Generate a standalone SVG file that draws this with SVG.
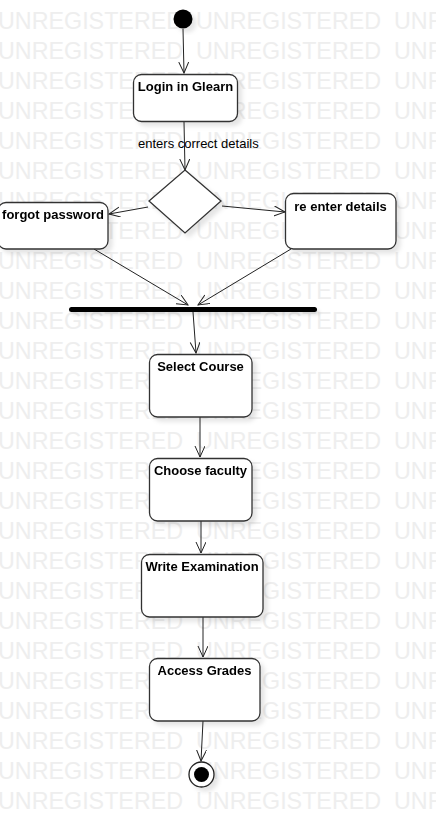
<svg xmlns="http://www.w3.org/2000/svg" width="436" height="827" viewBox="0 0 436 827">
<style>
.wm{font-family:"Liberation Sans",Arial,sans-serif;font-size:23.3px;fill:#eeeeee}
.box{fill:#fff;stroke:#333;stroke-width:1.3}
.lbl{font-family:"Liberation Sans",Arial,sans-serif;font-size:13px;font-weight:bold;fill:#000;text-anchor:middle}
.edge{fill:none;stroke:#222;stroke-width:1}
.elbl{font-family:"Liberation Sans",Arial,sans-serif;font-size:13px;fill:#000}
</style>
<defs>
<marker id="arr" markerUnits="userSpaceOnUse" markerWidth="14" markerHeight="14" refX="11" refY="5" orient="auto">
<path d="M0,0 L11,5 L0,10" fill="none" stroke="#222" stroke-width="1"/>
</marker>
<filter id="sh" x="-20%" y="-20%" width="150%" height="150%">
<feDropShadow dx="4" dy="4" stdDeviation="2" flood-color="#000" flood-opacity="0.10"/>
</filter>
<filter id="shbar" filterUnits="userSpaceOnUse" x="60" y="300" width="270" height="25">
<feDropShadow dx="3" dy="3" stdDeviation="1.5" flood-color="#000" flood-opacity="0.10"/>
</filter>
</defs>
<rect width="436" height="827" fill="#fff"/>
<g id="watermark">
<text class="wm" y="29"><tspan x="-2">UNREGISTERED</tspan><tspan x="196">UNREGISTERED</tspan><tspan x="394">UNREGISTERED</tspan></text>
<text class="wm" y="59"><tspan x="-2">UNREGISTERED</tspan><tspan x="196">UNREGISTERED</tspan><tspan x="394">UNREGISTERED</tspan></text>
<text class="wm" y="89"><tspan x="-2">UNREGISTERED</tspan><tspan x="196">UNREGISTERED</tspan><tspan x="394">UNREGISTERED</tspan></text>
<text class="wm" y="119"><tspan x="-2">UNREGISTERED</tspan><tspan x="196">UNREGISTERED</tspan><tspan x="394">UNREGISTERED</tspan></text>
<text class="wm" y="149"><tspan x="-2">UNREGISTERED</tspan><tspan x="196">UNREGISTERED</tspan><tspan x="394">UNREGISTERED</tspan></text>
<text class="wm" y="179"><tspan x="-2">UNREGISTERED</tspan><tspan x="196">UNREGISTERED</tspan><tspan x="394">UNREGISTERED</tspan></text>
<text class="wm" y="209"><tspan x="-2">UNREGISTERED</tspan><tspan x="196">UNREGISTERED</tspan><tspan x="394">UNREGISTERED</tspan></text>
<text class="wm" y="239"><tspan x="-2">UNREGISTERED</tspan><tspan x="196">UNREGISTERED</tspan><tspan x="394">UNREGISTERED</tspan></text>
<text class="wm" y="269"><tspan x="-2">UNREGISTERED</tspan><tspan x="196">UNREGISTERED</tspan><tspan x="394">UNREGISTERED</tspan></text>
<text class="wm" y="299"><tspan x="-2">UNREGISTERED</tspan><tspan x="196">UNREGISTERED</tspan><tspan x="394">UNREGISTERED</tspan></text>
<text class="wm" y="329"><tspan x="-2">UNREGISTERED</tspan><tspan x="196">UNREGISTERED</tspan><tspan x="394">UNREGISTERED</tspan></text>
<text class="wm" y="359"><tspan x="-2">UNREGISTERED</tspan><tspan x="196">UNREGISTERED</tspan><tspan x="394">UNREGISTERED</tspan></text>
<text class="wm" y="389"><tspan x="-2">UNREGISTERED</tspan><tspan x="196">UNREGISTERED</tspan><tspan x="394">UNREGISTERED</tspan></text>
<text class="wm" y="419"><tspan x="-2">UNREGISTERED</tspan><tspan x="196">UNREGISTERED</tspan><tspan x="394">UNREGISTERED</tspan></text>
<text class="wm" y="449"><tspan x="-2">UNREGISTERED</tspan><tspan x="196">UNREGISTERED</tspan><tspan x="394">UNREGISTERED</tspan></text>
<text class="wm" y="479"><tspan x="-2">UNREGISTERED</tspan><tspan x="196">UNREGISTERED</tspan><tspan x="394">UNREGISTERED</tspan></text>
<text class="wm" y="509"><tspan x="-2">UNREGISTERED</tspan><tspan x="196">UNREGISTERED</tspan><tspan x="394">UNREGISTERED</tspan></text>
<text class="wm" y="539"><tspan x="-2">UNREGISTERED</tspan><tspan x="196">UNREGISTERED</tspan><tspan x="394">UNREGISTERED</tspan></text>
<text class="wm" y="569"><tspan x="-2">UNREGISTERED</tspan><tspan x="196">UNREGISTERED</tspan><tspan x="394">UNREGISTERED</tspan></text>
<text class="wm" y="599"><tspan x="-2">UNREGISTERED</tspan><tspan x="196">UNREGISTERED</tspan><tspan x="394">UNREGISTERED</tspan></text>
<text class="wm" y="629"><tspan x="-2">UNREGISTERED</tspan><tspan x="196">UNREGISTERED</tspan><tspan x="394">UNREGISTERED</tspan></text>
<text class="wm" y="659"><tspan x="-2">UNREGISTERED</tspan><tspan x="196">UNREGISTERED</tspan><tspan x="394">UNREGISTERED</tspan></text>
<text class="wm" y="689"><tspan x="-2">UNREGISTERED</tspan><tspan x="196">UNREGISTERED</tspan><tspan x="394">UNREGISTERED</tspan></text>
<text class="wm" y="719"><tspan x="-2">UNREGISTERED</tspan><tspan x="196">UNREGISTERED</tspan><tspan x="394">UNREGISTERED</tspan></text>
<text class="wm" y="749"><tspan x="-2">UNREGISTERED</tspan><tspan x="196">UNREGISTERED</tspan><tspan x="394">UNREGISTERED</tspan></text>
<text class="wm" y="779"><tspan x="-2">UNREGISTERED</tspan><tspan x="196">UNREGISTERED</tspan><tspan x="394">UNREGISTERED</tspan></text>
<text class="wm" y="809"><tspan x="-2">UNREGISTERED</tspan><tspan x="196">UNREGISTERED</tspan><tspan x="394">UNREGISTERED</tspan></text>
</g>
<g id="connectors">
<line class="edge" x1="183" y1="29" x2="184" y2="73" marker-end="url(#arr)"/>
<line class="edge" x1="184" y1="122" x2="185" y2="170" marker-end="url(#arr)"/>
<text class="elbl" x="138" y="148">enters correct details</text>
<line class="edge" x1="148" y1="207" x2="109" y2="214" marker-end="url(#arr)"/>
<line class="edge" x1="222" y1="206" x2="285" y2="212" marker-end="url(#arr)"/>
<line class="edge" x1="94" y1="249" x2="188" y2="305" marker-end="url(#arr)"/>
<line class="edge" x1="291" y1="249" x2="198" y2="305" marker-end="url(#arr)"/>
<line class="edge" x1="193" y1="312" x2="196" y2="353" marker-end="url(#arr)"/>
<line class="edge" x1="200" y1="417" x2="200" y2="457" marker-end="url(#arr)"/>
<line class="edge" x1="201" y1="521" x2="201" y2="553" marker-end="url(#arr)"/>
<line class="edge" x1="203" y1="617" x2="203" y2="657" marker-end="url(#arr)"/>
<line class="edge" x1="203" y1="721" x2="201" y2="761" marker-end="url(#arr)"/>
</g>
<g id="start" filter="url(#sh)">
<circle cx="183" cy="19" r="9.5" fill="#000"/>
</g>
<g id="login" filter="url(#sh)">
<rect class="box" x="133.5" y="74.5" width="104" height="47" rx="8"/>
<text class="lbl" x="185.5" y="91">Login in Glearn</text>
</g>
<g id="decision" filter="url(#sh)">
<polygon points="185,170 221,201 185,233 149,201" fill="#fff" stroke="#333" stroke-width="1.3"/>
</g>
<g id="forgot" filter="url(#sh)">
<rect class="box" x="-2" y="202.5" width="110" height="46.5" rx="8"/>
<text class="lbl" x="53" y="219">forgot password</text>
</g>
<g id="reenter" filter="url(#sh)">
<rect class="box" x="285.5" y="193.5" width="110.5" height="55.5" rx="8"/>
<text class="lbl" x="340.5" y="211">re enter details</text>
</g>
<g id="fork" filter="url(#shbar)">
<rect x="69" y="307" width="248" height="5" rx="2.5" fill="#000"/>
</g>
<g id="select" filter="url(#sh)">
<rect class="box" x="149.5" y="354.5" width="102.5" height="62.5" rx="8"/>
<text class="lbl" x="200.5" y="371">Select Course</text>
</g>
<g id="faculty" filter="url(#sh)">
<rect class="box" x="149.5" y="458.5" width="102.5" height="62.5" rx="8"/>
<text class="lbl" x="200.5" y="475">Choose faculty</text>
</g>
<g id="exam" filter="url(#sh)">
<rect class="box" x="141.5" y="554.5" width="121.5" height="62.5" rx="8"/>
<text class="lbl" x="202" y="571">Write Examination</text>
</g>
<g id="grades" filter="url(#sh)">
<rect class="box" x="149.5" y="658.5" width="110.5" height="62.5" rx="8"/>
<text class="lbl" x="204.5" y="675">Access Grades</text>
</g>
<g id="end" filter="url(#sh)">
<circle cx="201.5" cy="774.5" r="12.5" fill="#fff" stroke="#222" stroke-width="1.3"/>
<circle cx="201.5" cy="774.5" r="7.5" fill="#000"/>
</g>
</svg>
